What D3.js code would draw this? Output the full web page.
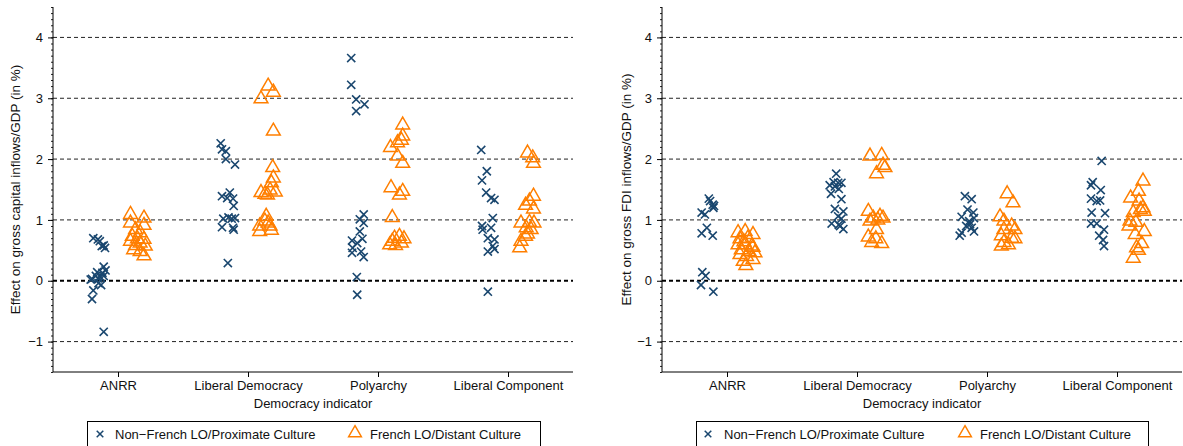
<!DOCTYPE html>
<html>
<head>
<meta charset="utf-8">
<script src="https://cdn.jsdelivr.net/npm/d3@7"></script>
<style>
  body { margin: 0; background: #fff; }
  svg { display: block; font-family: "Liberation Sans", Arial, sans-serif; }
</style>
</head>
<body>
<svg id="chart"></svg>
<script>
const svgWidth = 1183;
const svgHeight = 446;
const categories = ["ANRR", "Liberal Democracy", "Polyarchy", "Liberal Component"];
const groups = ["Non\u2212French LO/Proximate Culture", "French LO/Distant Culture"];
const yTicks = [-1, 0, 1, 2, 3, 4];
const yTitles = ["Effect on gross capital inflows/GDP (in %)", "Effect on gross FDI inflows/GDP (in %)"];
const xTitle = "Democracy indicator";
const colors = ["#1a476f", "#ff7f00"];

// each point: [effect, horizontal jitter in category units]
// left panel: gross capital inflows
const capAnrrBlue = [[0.70,-0.19],[0.68,-0.155],[0.65,-0.14],[0.57,-0.125],[0.58,-0.11],[0.54,-0.10],
  [0.23,-0.11],[0.17,-0.096],[0.13,-0.12],[0.14,-0.16],[0.08,-0.17],[0.03,-0.2],[0.04,-0.155],
  [0.06,-0.135],[0.08,-0.11],[0.02,-0.21],[-0.04,-0.15],[-0.07,-0.13],[-0.16,-0.19],[-0.30,-0.2],[-0.84,-0.11]];
const capAnrrOrange = [[1.09,0.096],[1.03,0.2],[0.95,0.096],[0.91,0.2],[0.84,0.135],[0.79,0.17],
  [0.73,0.11],[0.69,0.15],[0.68,0.2],[0.65,0.096],[0.62,0.17],[0.58,0.135],[0.57,0.21],
  [0.51,0.12],[0.48,0.17],[0.41,0.2]];
const capLdBlue = [[2.26,-0.21],[2.16,-0.2],[2.13,-0.17],[2.00,-0.17],[1.91,-0.1],[1.39,-0.2],
  [1.45,-0.14],[1.36,-0.16],[1.35,-0.115],[1.23,-0.11],[1.02,-0.19],[1.04,-0.15],[1.02,-0.125],
  [1.03,-0.1],[0.88,-0.2],[0.87,-0.115],[0.84,-0.11],[0.29,-0.155]];
const capLdOrange = [[3.20,0.155],[3.10,0.195],[2.99,0.1],[2.46,0.195],[1.86,0.19],[1.69,0.195],
  [1.61,0.18],[1.45,0.1],[1.42,0.13],[1.49,0.17],[1.46,0.21],[1.41,0.15],[1.06,0.14],[0.98,0.13],
  [0.90,0.09],[0.90,0.17],[0.81,0.09],[0.83,0.18],[0.95,0.155]];
const capPolyBlue = [[3.66,-0.206],[3.22,-0.206],[2.98,-0.168],[2.90,-0.104],[2.79,-0.168],[1.09,-0.11],
  [1.01,-0.14],[0.95,-0.11],[0.81,-0.14],[0.66,-0.2],[0.69,-0.12],[0.62,-0.16],[0.54,-0.195],
  [0.48,-0.13],[0.39,-0.11],[0.46,-0.2],[0.06,-0.163],[-0.23,-0.16]];
const capPolyOrange = [[2.56,0.19],[2.38,0.19],[2.31,0.18],[2.27,0.15],[2.19,0.096],[2.05,0.15],
  [1.93,0.19],[1.53,0.1],[1.47,0.19],[1.41,0.165],[1.04,0.11],[0.70,0.127],[0.73,0.165],
  [0.69,0.2],[0.59,0.09],[0.58,0.135],[0.65,0.11],[0.62,0.18]];
const capLcBlue = [[2.15,-0.206],[1.80,-0.163],[1.65,-0.2],[1.45,-0.168],[1.36,-0.13],[1.33,-0.104],
  [1.03,-0.117],[0.90,-0.2],[0.84,-0.195],[0.87,-0.13],[0.70,-0.155],[0.68,-0.104],[0.57,-0.117],
  [0.48,-0.155],[0.52,-0.104],[-0.18,-0.155]];
const capLcOrange = [[2.10,0.15],[2.02,0.19],[1.93,0.196],[1.39,0.196],[1.31,0.165],[1.24,0.135],
  [1.18,0.196],[0.95,0.1],[0.96,0.165],[0.95,0.2],[0.87,0.14],[0.84,0.178],[0.73,0.135],
  [0.65,0.1],[0.54,0.09],[0.77,0.15]];

// right panel: gross FDI inflows
const fdiAnrrBlue = [[1.35,-0.14],[1.31,-0.13],[1.25,-0.11],[1.20,-0.105],[1.23,-0.1],[1.12,-0.195],
  [1.09,-0.17],[0.87,-0.155],[0.78,-0.195],[0.74,-0.11],[0.14,-0.19],[0.08,-0.165],[-0.07,-0.2],[-0.18,-0.105]];
const fdiAnrrOrange = [[0.79,0.085],[0.81,0.14],[0.76,0.2],[0.69,0.1],[0.70,0.16],[0.59,0.085],
  [0.59,0.14],[0.57,0.19],[0.51,0.11],[0.48,0.17],[0.46,0.215],[0.43,0.1],[0.40,0.15],
  [0.35,0.2],[0.32,0.125],[0.25,0.145],[0.64,0.13],[0.55,0.2]];
const fdiLdBlue = [[1.76,-0.16],[1.62,-0.18],[1.61,-0.145],[1.61,-0.12],[1.57,-0.21],[1.55,-0.17],
  [1.51,-0.14],[1.43,-0.2],[1.34,-0.12],[1.18,-0.17],[1.14,-0.105],[1.06,-0.145],[0.94,-0.195],
  [1.02,-0.12],[0.90,-0.13],[0.85,-0.105],[0.92,-0.14]];
const fdiLdOrange = [[2.05,0.1],[2.06,0.19],[1.90,0.2],[1.76,0.15],[1.86,0.215],[1.14,0.087],
  [1.03,0.125],[1.06,0.177],[1.03,0.2],[0.98,0.1],[0.84,0.15],[0.72,0.087],[0.69,0.145],
  [0.63,0.113],[0.61,0.19],[1.00,0.16]];
const fdiPolyBlue = [[1.39,-0.17],[1.34,-0.118],[1.17,-0.15],[1.12,-0.105],[1.05,-0.195],[1.03,-0.1],
  [0.98,-0.137],[0.90,-0.16],[0.87,-0.118],[0.81,-0.1],[0.79,-0.195],[0.74,-0.21],[0.93,-0.13]];
const fdiPolyOrange = [[1.43,0.155],[1.28,0.2],[1.05,0.1],[0.98,0.13],[0.90,0.19],[0.84,0.215],
  [0.84,0.13],[0.74,0.11],[0.70,0.19],[0.63,0.13],[0.59,0.165],[0.57,0.11],[0.69,0.215]];
const fdiLcBlue = [[1.97,-0.118],[1.62,-0.187],[1.57,-0.2],[1.49,-0.125],[1.35,-0.2],[1.31,-0.156],
  [1.32,-0.13],[1.12,-0.195],[1.11,-0.092],[0.94,-0.2],[0.94,-0.156],[0.84,-0.1],[0.74,-0.137],
  [0.67,-0.107],[0.57,-0.1]];
const fdiLcOrange = [[1.64,0.2],[1.47,0.165],[1.36,0.105],[1.31,0.17],[1.20,0.2],[1.14,0.21],
  [1.12,0.125],[0.98,0.1],[0.96,0.145],[0.90,0.092],[0.81,0.21],[0.76,0.14],[0.61,0.19],
  [0.54,0.15],[0.50,0.165],[0.37,0.125],[1.17,0.18]];

const panels = [
  { left: 53, title: yTitles[0], titleX: 15,
    series: [[capAnrrBlue, capLdBlue, capPolyBlue, capLcBlue], [capAnrrOrange, capLdOrange, capPolyOrange, capLcOrange]],
    legend: { x: 87, w: 453, markers: [100, 355], texts: [115, 370] } },
  { left: 662, title: yTitles[1], titleX: 626,
    series: [[fdiAnrrBlue, fdiLdBlue, fdiPolyBlue, fdiLcBlue], [fdiAnrrOrange, fdiLdOrange, fdiPolyOrange, fdiLcOrange]],
    legend: { x: 696, w: 452, markers: [708, 965], texts: [724, 980] } }
];

const plotTop = 7;
const plotW = 520;
const plotH = 365;

const svg = d3.select("#chart").attr("width", svgWidth).attr("height", svgHeight);

const x = d3.scaleLinear().domain([0.5, 4.5]).range([0, plotW]);
const y = d3.scaleLinear().domain([-1.5, 4.5]).range([plotH, 0]);

const crossPath = d3.symbol(d3.symbolTimes, 45)();
const triPath = d3.symbol(d3.symbolTriangle, 82)();

const drawPanel = (p) => {
  let g = svg.append("g").attr("transform", "translate(" + p.left + "," + plotTop + ")");

  // grid lines
  g.selectAll("line.grid")
    .data(yTicks)
    .enter().append("line")
    .attr("x1", 0).attr("x2", plotW)
    .attr("y1", d => y(d)).attr("y2", d => y(d))
    .attr("stroke", d => d === 0 ? "#000" : "#222")
    .attr("stroke-width", d => d === 0 ? 2 : 1)
    .attr("stroke-dasharray", "4,3");

  // minor ticks
  let minor = d3.range(-15, 46).map(d => d / 10);
  g.append("g")
    .call(d3.axisLeft(y).tickValues(minor).tickSize(2).tickFormat(""))
    .call(a => a.select(".domain").remove())
    .selectAll("line").attr("stroke", "#222");

  // major y axis
  let ya = g.append("g")
    .call(d3.axisLeft(y).tickValues(yTicks).tickSize(5).tickPadding(5)
      .tickFormat(d => d < 0 ? "\u2212" + Math.abs(d) : d));
  ya.select(".domain").attr("d", "M0," + plotH + "V0").attr("stroke", "#000");
  ya.selectAll("text").attr("font-size", 13).attr("fill", "#111")
    .attr("font-family", "Liberation Sans, Arial, sans-serif");

  // x axis
  let xa = g.append("g")
    .attr("transform", "translate(0," + plotH + ")")
    .call(d3.axisBottom(x).tickValues([1, 2, 3, 4]).tickSize(5).tickPadding(4)
      .tickFormat(d => categories[d - 1]));
  xa.select(".domain").attr("d", "M0,0H" + plotW).attr("stroke", "#000");
  xa.selectAll("text").attr("font-size", 13).attr("fill", "#111")
    .attr("font-family", "Liberation Sans, Arial, sans-serif");

  g.append("text")
    .attr("x", plotW / 2).attr("y", plotH + 36)
    .attr("text-anchor", "middle").attr("font-size", 13).attr("fill", "#111")
    .text(xTitle);

  svg.append("text")
    .attr("transform", "translate(" + p.titleX + "," + (plotTop + plotH / 2) + ") rotate(-90)")
    .attr("text-anchor", "middle").attr("dy", "0.35em")
    .attr("font-size", 13.5).attr("fill", "#111")
    .text(p.title);

  // points
  p.series.forEach((cats, si) => {
    cats.forEach((pts, ci) => {
      g.selectAll(null)
        .data(pts)
        .enter().append("path")
        .attr("d", si === 0 ? crossPath : triPath)
        .attr("transform", d => "translate(" + x(ci + 1 + d[1]) + "," + y(d[0]) + ")")
        .attr("fill", "none")
        .attr("stroke", colors[si])
        .attr("stroke-width", si === 0 ? 1.6 : 1.5);
    });
  });

  // legend
  let lg = svg.append("g");
  lg.append("rect")
    .attr("x", p.legend.x + 0.5).attr("y", 421.5)
    .attr("width", p.legend.w).attr("height", 34)
    .attr("fill", "#fff").attr("stroke", "#000");
  groups.forEach((name, si) => {
    lg.append("path")
      .attr("d", si === 0 ? d3.symbol(d3.symbolTimes, 30)() : d3.symbol(d3.symbolTriangle, 70)())
      .attr("transform", "translate(" + p.legend.markers[si] + "," + (si === 0 ? 434 : 433) + ")")
      .attr("fill", "none").attr("stroke", colors[si]).attr("stroke-width", 1.5);
    lg.append("text")
      .attr("x", p.legend.texts[si]).attr("y", 438.5)
      .attr("font-size", 13).attr("fill", "#111")
      .text(name);
  });
};

panels.forEach(drawPanel);
</script>
</body>
</html>
